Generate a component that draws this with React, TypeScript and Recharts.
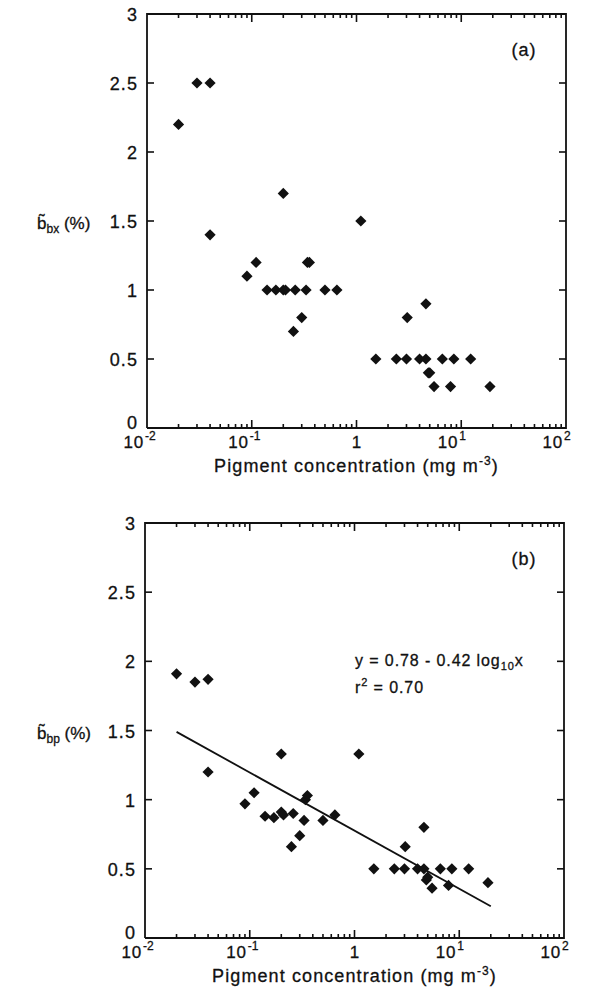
import { Scatter, ScatterChart, XAxis, YAxis } from "recharts";

// pigment concentration (mg m-3), shared by both panels
const pigment = [
  0.02, 0.03, 0.04, 0.04, 0.09, 0.11, 0.14, 0.17, 0.2, 0.2, 0.21, 0.25, 0.26,
  0.3, 0.33, 0.34, 0.355, 0.5, 0.65, 1.1, 1.53, 2.4, 3.0, 3.05, 4.0, 4.6, 4.6,
  4.85, 5.0, 5.5, 6.6, 7.9, 8.5, 12.3, 18.8,
];
// panel (a): b~bx (%)
const bbx = [
  2.2, 2.5, 2.5, 1.4, 1.1, 1.2, 1.0, 1.0, 1.7, 1.0, 1.0, 0.7, 1.0, 0.8, 1.0,
  1.2, 1.2, 1.0, 1.0, 1.5, 0.5, 0.5, 0.5, 0.8, 0.5, 0.5, 0.9, 0.4, 0.4, 0.3,
  0.5, 0.3, 0.5, 0.5, 0.3,
];
// panel (b): b~bp (%)
const bbp = [
  1.91, 1.85, 1.87, 1.2, 0.97, 1.05, 0.88, 0.87, 1.33, 0.91, 0.89, 0.66, 0.9,
  0.74, 0.85, 1.0, 1.03, 0.85, 0.89, 1.33, 0.5, 0.5, 0.5, 0.66, 0.5, 0.5, 0.8,
  0.42, 0.44, 0.36, 0.5, 0.38, 0.5, 0.5, 0.4,
];
// regression y = 0.78 - 0.42 log10 x, end points
const fitX = [0.02, 20];
const fitY = [1.49, 0.23];

const yTicks = [0, 0.5, 1, 1.5, 2, 2.5, 3];
const yTickLabels = ["0", "0.5", "1", "1.5", "2", "2.5", "3"];
const xMajor = [0.01, 0.1, 1, 10, 100];
const xMajorExp = ["-2", "-1", "", "1", "2"];
const xMinor = [0.01, 0.1, 1, 10].flatMap((d) =>
  [2, 3, 4, 5, 6, 7, 8, 9].map((m) => m * d),
);
// corners of the plot frame, in data units
const frameX = [0.01, 100, 100, 0.01, 0.01];
const frameY = [0, 0, 3, 3, 0];

const FONT = "'Liberation Sans', Arial, Helvetica, sans-serif";
const INK = "#111";
const BOLDEN = { stroke: INK, strokeWidth: 0.3 };

// short inward tick drawn from a point on the frame
const tickMark = (dx: number, dy: number) => (p: any) => {
  const len = p.payload && p.payload.major ? 8 : 4;
  const lx = dx === 0 ? 0 : dx * 7;
  const ly = dy === 0 ? 0 : dy * len;
  return <path d={`M${p.cx},${p.cy}l${lx},${ly}`} stroke={INK} strokeWidth={1.6} fill="none" />;
};

function BottomLabel({ x, y, payload }: any) {
  const i = xMajor.findIndex((t) => Math.abs(Math.log10(t) - Math.log10(payload.value)) < 1e-6);
  if (i < 0) return <g />;
  if (xMajorExp[i] === "")
    return (
      <text x={x} y={y + 20} textAnchor="middle" fontFamily={FONT} fontSize={17} fill={INK} {...BOLDEN}>
        1
      </text>
    );
  return (
    <g fontFamily={FONT} fill={INK} {...BOLDEN}>
      <text x={x - 3} y={y + 20} textAnchor="end" fontSize={17} letterSpacing={0.8}>
        10
      </text>
      <text x={x - 2} y={y + 12} fontSize={12}>
        {xMajorExp[i]}
      </text>
    </g>
  );
}

function LeftLabel({ x, y, payload }: any) {
  const i = yTicks.indexOf(payload.value);
  const dy = payload.value === 0 ? 1 : 7;
  return (
    <text
      x={x - 9}
      y={y + dy}
      textAnchor="end"
      fontFamily={FONT}
      fontSize={18}
      letterSpacing={1.1}
      fill={INK}
      {...BOLDEN}
    >
      {yTickLabels[i]}
    </text>
  );
}

function Diamond({ cx, cy }: any) {
  const r = 5.6;
  return <path d={`M${cx},${cy - r}L${cx + r},${cy}L${cx},${cy + r}L${cx - r},${cy}Z`} fill={INK} />;
}

const Nothing = () => <g />;

type PanelProps = {
  ys: number[];
  sub: string;
  tag: string;
  height: number;
  marginTop: number;
  left: number;
  right: number;
  bottom: number;
  withFit?: boolean;
};

function Panel({ ys, sub, tag, height, marginTop, left, right, bottom, withFit }: PanelProps) {
  const points = pigment.map((x, i) => ({ x, y: ys[i] }));
  const fit = fitX.map((x, i) => ({ x, y: fitY[i] }));
  const frame = frameX.map((x, i) => ({ x, y: frameY[i] }));
  const xTickRows = [
    ...xMajor.slice(1, 4).map((x) => ({ x, major: true })),
    ...xMinor.map((x) => ({ x, major: false })),
  ];
  const bottomTicks = xTickRows.map((t) => ({ ...t, y: 0 }));
  const topTicks = xTickRows.map((t) => ({ ...t, y: 3 }));
  const leftTicks = yTicks.slice(1, 6).map((y) => ({ x: 0.01, y }));
  const rightTicks = yTicks.slice(1, 6).map((y) => ({ x: 100, y }));
  const plotBottom = height - bottom;
  const midY = (marginTop + plotBottom) / 2;
  const midX = (left + 592 - right) / 2;
  return (
    <ScatterChart width={592} height={height} margin={{ top: marginTop, right, left: 0, bottom: 0 }}>
      <XAxis
        dataKey="x"
        type="number"
        scale="log"
        domain={[0.01, 100]}
        ticks={xMajor}
        interval={0}
        height={bottom}
        tickSize={0}
        tickMargin={0}
        tickLine={false}
        axisLine={false}
        tick={<BottomLabel />}
      />
      <YAxis
        dataKey="y"
        type="number"
        domain={[0, 3]}
        ticks={yTicks}
        interval={0}
        width={left}
        tickSize={0}
        tickMargin={0}
        tickLine={false}
        axisLine={false}
        tick={<LeftLabel />}
      />
      <Scatter
        data={frame}
        line={{ stroke: INK, strokeWidth: 1.8 }}
        shape={<Nothing />}
        isAnimationActive={false}
      />
      <Scatter data={bottomTicks} shape={tickMark(0, -1)} isAnimationActive={false} />
      <Scatter data={topTicks} shape={tickMark(0, 1)} isAnimationActive={false} />
      <Scatter data={leftTicks} shape={tickMark(1, 0)} isAnimationActive={false} />
      <Scatter data={rightTicks} shape={tickMark(-1, 0)} isAnimationActive={false} />
      {withFit && (
        <Scatter
          data={fit}
          line={{ stroke: INK, strokeWidth: 1.8 }}
          shape={<Nothing />}
          isAnimationActive={false}
        />
      )}
      <Scatter data={points} shape={<Diamond />} isAnimationActive={false} />
      <text
        x={524}
        y={marginTop + 42}
        textAnchor="middle"
        fontFamily={FONT}
        fontSize={18}
        letterSpacing={1}
        fill={INK}
        {...BOLDEN}
      >
        ({tag})
      </text>
      <text
        x={midX}
        y={plotBottom + 44}
        textAnchor="middle"
        fontFamily={FONT}
        fontSize={18}
        letterSpacing={1.1}
        fill={INK}
        {...BOLDEN}
      >
        Pigment concentration (mg m
        <tspan fontSize={12} dy={-7}>-3</tspan>
        <tspan dy={7}>)</tspan>
      </text>
      <text x={37} y={midY + 8} fontFamily={FONT} fill={INK} fontSize={17} {...BOLDEN}>
        {"b\u0303"}
        <tspan fontSize={12} dy={4}>
          {sub}
        </tspan>
        <tspan dy={-4}> (%)</tspan>
      </text>
      {withFit && (
        <g fontFamily={FONT} fill={INK} fontSize={16} letterSpacing={0.9} {...BOLDEN}>
          <text x={355} y={marginTop + 143}>
            y = 0.78 - 0.42 log<tspan fontSize={11} dy={4}>10</tspan>
            <tspan dy={-4}>x</tspan>
          </text>
          <text x={355} y={marginTop + 170}>
            r<tspan fontSize={11} dy={-7}>2</tspan>
            <tspan dy={7}> = 0.70</tspan>
          </text>
        </g>
      )}
    </ScatterChart>
  );
}

export default function App() {
  return (
    <div style={{ position: "absolute", left: 0, top: 0, width: 592, height: 996, background: "#fff" }}>
      <div style={{ position: "absolute", left: 0, top: 0 }}>
        <Panel ys={bbx} sub="bx" tag="a" height={490} marginTop={14} left={147} right={26} bottom={62} />
      </div>
      <div style={{ position: "absolute", left: 0, top: 490 }}>
        <Panel ys={bbp} sub="bp" tag="b" height={506} marginTop={33} left={145} right={28} bottom={58} withFit />
      </div>
    </div>
  );
}
